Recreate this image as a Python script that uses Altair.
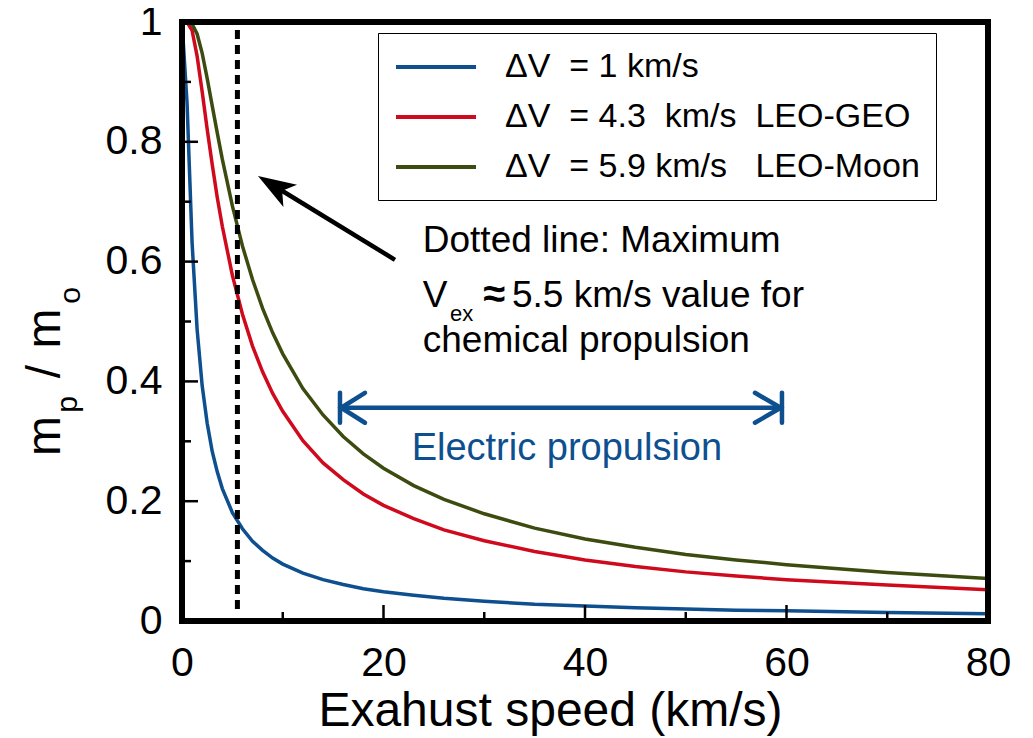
import altair as alt
import pandas as pd

# ---------------- data ----------------
vex = [0, 0.5, 1, 1.5, 2, 2.5, 3, 3.5, 4, 5, 6, 7, 8, 9, 10, 12, 14, 16, 18, 20,
       23, 26, 30, 35, 40, 45, 50, 55, 60, 70, 80]
ratio_dv1 = [1.000, 0.865, 0.632, 0.487, 0.393, 0.330, 0.283, 0.249, 0.221, 0.181,
             0.154, 0.133, 0.118, 0.105, 0.095, 0.080, 0.069, 0.061, 0.054, 0.049,
             0.043, 0.038, 0.033, 0.028, 0.025, 0.022, 0.020, 0.018, 0.017, 0.014, 0.012]
ratio_dv43 = [1.000, 1.000, 0.986, 0.943, 0.884, 0.821, 0.762, 0.707, 0.659, 0.577,
              0.512, 0.459, 0.416, 0.380, 0.350, 0.301, 0.264, 0.236, 0.212, 0.193,
              0.171, 0.152, 0.134, 0.116, 0.102, 0.091, 0.082, 0.075, 0.069, 0.060, 0.052]
ratio_dv59 = [1.000, 1.000, 0.997, 0.980, 0.948, 0.906, 0.860, 0.815, 0.771, 0.693,
              0.626, 0.570, 0.522, 0.481, 0.446, 0.388, 0.344, 0.308, 0.279, 0.255,
              0.226, 0.203, 0.179, 0.155, 0.137, 0.123, 0.111, 0.102, 0.094, 0.081, 0.071]

NB = "\u00a0"
series_labels = [
    f"ΔV{NB}{NB}= 1 km/s",
    f"ΔV{NB}{NB}= 4.3{NB}{NB}km/s{NB}{NB}LEO-GEO",
    f"ΔV{NB}{NB}= 5.9 km/s{NB}{NB}{NB}LEO-Moon",
]
series_colors = ["#0d4f8f", "#cf0a1c", "#3c4c10"]

x_tick_labels = [0, 20, 40, 60, 80]
y_tick_labels = [0, 0.2, 0.4, 0.6, 0.8, 1]
x_major_ticks = [20, 40, 60]
x_minor_ticks = [10, 30, 50, 70]
y_major_ticks = [0.2, 0.4, 0.6, 0.8]
y_minor_ticks = [0.1, 0.3, 0.5, 0.7, 0.9]

chem_limit_vex = [5.5]
chem_limit_from = [0.02]
chem_limit_to = [1.0]

# black annotation arrow (tail -> head)
arrow_tail = (21.14, 0.603)
arrow_head_center = (9.32, 0.7245)

# electric propulsion double arrow segments: x, y, x2, y2
ep_x = [15.68, 15.68, 15.80, 15.80, 59.55, 59.43, 59.43]
ep_y = [0.356, 0.381, 0.356, 0.356, 0.381, 0.356, 0.356]
ep_x2 = [59.55, 15.68, 18.16, 18.16, 59.55, 56.87, 56.87]
ep_y2 = [0.356, 0.331, 0.381, 0.331, 0.331, 0.381, 0.331]

W, H = 806, 599
FONT = "Liberation Sans"

# ---------------- tables ----------------
rows = []
for lab, vals in zip(series_labels, [ratio_dv1, ratio_dv43, ratio_dv59]):
    for xv, yv in zip(vex, vals):
        rows.append({"x": xv, "y": yv, "series": lab})
curves = pd.DataFrame(rows)

xscale = alt.Scale(domain=[0, 80], nice=False, zero=False)
yscale = alt.Scale(domain=[0, 1], nice=False, zero=False)
xaxis = alt.Axis(values=x_tick_labels, title="Exahust speed (km/s)", titleFontSize=48,
                 titleFontWeight="normal", titleX=368, titleY=104, titleBaseline="alphabetic",
                 titleAlign="center", labelFontSize=41, labelPadding=22, ticks=False,
                 tickSize=0, domain=False, grid=False, labelFlush=False, labelColor="black",
                 titleColor="black", labelFont=FONT, titleFont=FONT)
yaxis = alt.Axis(values=y_tick_labels, format="~g", title=None, labelFontSize=41,
                 labelPadding=20, ticks=False, tickSize=0, domain=False, grid=False,
                 labelFlush=False, labelColor="black", labelFont=FONT)


def X(field="x"):
    return alt.X(f"{field}:Q", scale=xscale, axis=xaxis)


def Y(field="y"):
    return alt.Y(f"{field}:Q", scale=yscale, axis=yaxis)


lines = alt.Chart(curves).mark_line(strokeWidth=3.5, clip=True).encode(
    x=X(), y=Y(),
    color=alt.Color("series:N", sort=series_labels,
                    scale=alt.Scale(domain=series_labels, range=series_colors),
                    legend=alt.Legend(title=None, orient="none", legendX=196, legendY=11,
                                      symbolType="M-1,0L4,0", symbolSize=1024,
                                      symbolStrokeWidth=4, labelFontSize=34,
                                      labelFont=FONT, labelLimit=800, labelOffset=75,
                                      rowPadding=15, padding=16, strokeColor="black",
                                      fillColor="white", labelColor="black")),
    detail="series:N",
)

dotted = alt.Chart(pd.DataFrame({"x": chem_limit_vex, "y": chem_limit_from,
                                 "y2": chem_limit_to})).mark_rule(
    strokeWidth=5, strokeDash=[9, 6], color="black").encode(x=X(), y=Y(), y2="y2:Q")

shaft = alt.Chart(pd.DataFrame({"x": [arrow_tail[0]], "y": [arrow_tail[1]],
                                "x2": [arrow_head_center[0]],
                                "y2": [arrow_head_center[1]]})).mark_rule(
    strokeWidth=4.5, color="black").encode(x=X(), y=Y(), x2="x2:Q", y2="y2:Q")

head = alt.Chart(pd.DataFrame({"x": [arrow_head_center[0]],
                               "y": [arrow_head_center[1]]})).mark_point(
    shape="M0,-1L0.62,0.8L0,0.35L-0.62,0.8Z", filled=True, size=1764, angle=301.5,
    color="black", opacity=1, strokeWidth=0).encode(x=X(), y=Y())

ep = alt.Chart(pd.DataFrame({"x": ep_x, "y": ep_y, "x2": ep_x2, "y2": ep_y2})).mark_rule(
    strokeWidth=4.5, color="#0d4f8f", strokeCap="round").encode(
    x=X(), y=Y(), x2="x2:Q", y2="y2:Q")

ep_text = alt.Chart(pd.DataFrame({"x": [38.2], "y": [0.269],
                                  "t": ["Electric propulsion"]})).mark_text(
    fontSize=38, font=FONT, color="#0d4f8f", align="center", baseline="alphabetic").encode(
    x=X(), y=Y(), text="t:N")

ann_main = alt.Chart(pd.DataFrame({"x": [23.9, 23.9, 23.9], "y": [0.616, 0.524, 0.449],
                                   "t": ["Dotted line: Maximum", "V", "chemical propulsion"]})
                     ).mark_text(fontSize=37, font=FONT, color="black", align="left",
                                 baseline="alphabetic").encode(x=X(), y=Y(), text="t:N")
ann_sub = alt.Chart(pd.DataFrame({"x": [26.6], "y": [0.501], "t": ["ex"]})).mark_text(
    fontSize=22, font=FONT, color="black", align="left", baseline="alphabetic").encode(
    x=X(), y=Y(), text="t:N")
ann_approx = alt.Chart(pd.DataFrame({"x": [29.9], "y": [0.524], "t": ["≈"]})).mark_text(
    fontSize=40, font=FONT, fontWeight="bold", color="black", align="left",
    baseline="alphabetic").encode(x=X(), y=Y(), text="t:N")
ann_rest = alt.Chart(pd.DataFrame({"x": [32.75], "y": [0.524],
                                   "t": ["5.5 km/s value for"]})).mark_text(
    fontSize=37, font=FONT, color="black", align="left", baseline="alphabetic").encode(
    x=X(), y=Y(), text="t:N")

# inward ticks
xt_major = alt.Chart(pd.DataFrame({"x": x_major_ticks})).mark_rule(
    strokeWidth=2.5, color="black").encode(x=X(), y=alt.value(H), y2=alt.value(H - 16))
xt_minor = alt.Chart(pd.DataFrame({"x": x_minor_ticks})).mark_rule(
    strokeWidth=2.5, color="black").encode(x=X(), y=alt.value(H), y2=alt.value(H - 9))
yt_major = alt.Chart(pd.DataFrame({"y": y_major_ticks})).mark_rule(
    strokeWidth=2.5, color="black").encode(y=Y(), x=alt.value(0), x2=alt.value(16))
yt_minor = alt.Chart(pd.DataFrame({"y": y_minor_ticks})).mark_rule(
    strokeWidth=2.5, color="black").encode(y=Y(), x=alt.value(0), x2=alt.value(9))

# plot frame (four thick rules)
frame_layers = []
for fx, fx2, fy, fy2 in [(0, W, 0, 0), (0, W, H, H), (0, 0, 0, H), (W, W, 0, H)]:
    frame_layers.append(
        alt.Chart(pd.DataFrame({"f": [0]})).mark_rule(
            strokeWidth=6, color="black", strokeCap="square").encode(
            x=alt.value(fx), x2=alt.value(fx2), y=alt.value(fy), y2=alt.value(fy2)))

# y-axis title m_p / m_o (rotated, with subscripts)
ytitle_parts = [("m", 48, -122, 414), ("p", 30, -105, 382.5), ("/", 48, -122, 349.5),
                ("m", 48, -122, 306.5), ("o", 30, -102, 273.5)]
ytitle_layers = []
for txt, fs, px, py in ytitle_parts:
    ytitle_layers.append(
        alt.Chart(pd.DataFrame({"t": [txt]})).mark_text(
            fontSize=fs, font=FONT, angle=270, align="center", baseline="alphabetic",
            color="black").encode(x=alt.value(px), y=alt.value(py), text="t:N"))

chart = alt.layer(
    lines, dotted, ep, ep_text, shaft, head, ann_main, ann_sub, ann_approx, ann_rest,
    xt_major, xt_minor, yt_major, yt_minor, *frame_layers, *ytitle_layers
).properties(
    width=W, height=H,
    autosize=alt.AutoSizeParams(type="none"),
    padding={"left": 174, "top": 14, "right": 30, "bottom": 116},
).configure(
    font=FONT
).configure_view(
    stroke=None
)

chart.save("out.html", embed_options={"renderer": "svg", "actions": False})
